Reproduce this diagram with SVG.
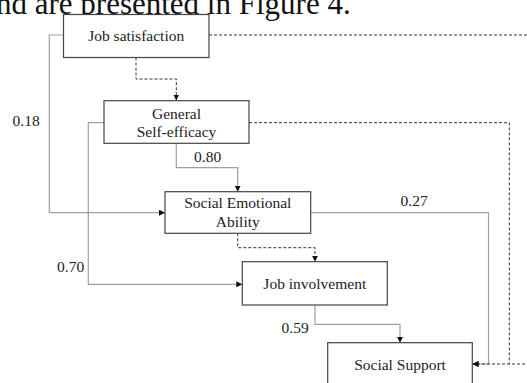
<svg xmlns="http://www.w3.org/2000/svg" width="527" height="383" viewBox="0 0 527 383">
<defs>
<style>
.box{fill:#fff;stroke:#444;stroke-width:1.2}
.lbl{font-family:"Liberation Serif","Times New Roman",serif;font-size:15.5px;fill:#222;text-anchor:middle}
.num{font-family:"Liberation Serif","Times New Roman",serif;font-size:15.5px;fill:#222}
.solid{fill:none;stroke:#a0a0a0;stroke-width:1.2}
.dash{fill:none;stroke:#333;stroke-width:1;stroke-dasharray:3,2}
</style>
<marker id="ah" viewBox="0 0 6 6" refX="6" refY="3" markerWidth="6" markerHeight="6" markerUnits="userSpaceOnUse" orient="auto">
<path d="M0,0 L6,3 L0,6 Z" fill="#111"/>
</marker>
</defs>
<rect width="527" height="383" fill="#fff"/>
<text x="-4" y="13.5" font-family="Liberation Serif,serif" font-size="31" fill="#111">nd are presented in Figure 4.</text>
<g id="connectors">
<path class="dash" d="M136,57.5 V79 H176.3 V100.5" marker-end="url(#ah)"/>
<path class="solid" d="M63.5,35 H49.3 V212.7 H165" marker-end="url(#ah)"/>
<path class="solid" d="M104,122.7 H88.3 V284.3 H242.3" marker-end="url(#ah)"/>
<path class="solid" d="M176.3,143.3 V167.7 H237.7 V191.7" marker-end="url(#ah)"/>
<path class="dash" d="M237.7,233.3 V247.7 H315 V261.7" marker-end="url(#ah)"/>
<path class="solid" d="M315,305 V324.3 H400 V342.7" marker-end="url(#ah)"/>
<path class="solid" d="M310.7,212.7 H488.5 V364 H472.5" marker-end="url(#ah)"/>
<path class="dash" d="M209,35 H535 V364 H472.5" marker-end="url(#ah)"/>
<path class="dash" d="M249,122.7 H509.3 V364"/>
<text class="num" x="12.5" y="126">0.18</text>
<text class="num" x="194" y="162">0.80</text>
<text class="num" x="57" y="271.7">0.70</text>
<text class="num" x="400.5" y="205.7">0.27</text>
<text class="num" x="281.5" y="333.3">0.59</text>
</g>
<g id="job-satisfaction">
<rect class="box" x="63.5" y="14.5" width="145.5" height="43"/>
<text class="lbl" x="136.2" y="41">Job satisfaction</text>
</g>
<g id="general-self-efficacy">
<rect class="box" x="104" y="100.7" width="145" height="42.6"/>
<text class="lbl" x="176.5" y="119">General</text>
<text class="lbl" x="176.5" y="136.7">Self-efficacy</text>
</g>
<g id="social-emotional-ability">
<rect class="box" x="165" y="191.7" width="145.7" height="41.6"/>
<text class="lbl" x="237.8" y="208.3">Social Emotional</text>
<text class="lbl" x="237.8" y="226.7">Ability</text>
</g>
<g id="job-involvement">
<rect class="box" x="242.3" y="261.7" width="145" height="43.3"/>
<text class="lbl" x="314.8" y="289.3">Job involvement</text>
</g>
<g id="social-support">
<rect class="box" x="327.7" y="342.7" width="144.6" height="50"/>
<text class="lbl" x="400" y="370">Social Support</text>
</g>
</svg>
